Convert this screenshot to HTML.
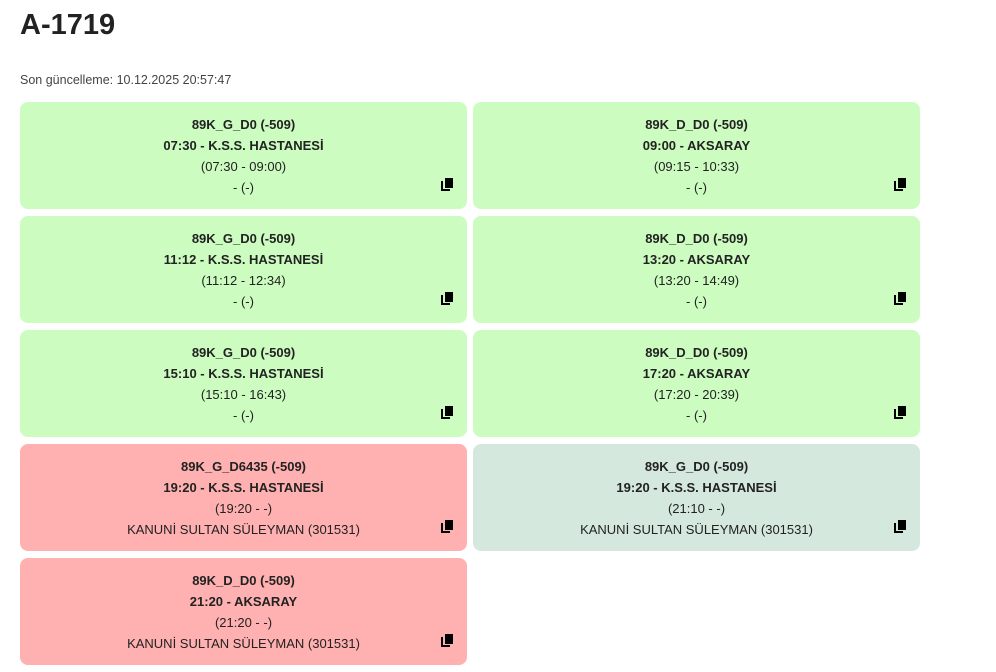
<!DOCTYPE html>
<html><head><meta charset="utf-8"><style>
body{margin:0;background:#fff;font-family:"Liberation Sans",sans-serif;color:#222;width:996px;height:672px;overflow:hidden;position:relative}
h1{position:absolute;left:20px;top:9px;margin:0;font-size:29px;font-weight:bold;color:#222}
.sub{position:absolute;left:20px;top:73px;font-size:12.5px;color:#444}
.c{position:absolute;width:447px;height:107px;border-radius:8px;text-align:center;font-size:13px;line-height:21px;box-sizing:border-box;padding-top:12px}
.g{background:#ccfcc0}.r{background:#ffb0b0}.s{background:#d5e8de}
.b{font-weight:bold}
.i{position:absolute;right:14px;top:76px;width:12px;height:13px}
</style></head><body>
<h1>A-1719</h1>
<div class="sub">Son güncelleme: 10.12.2025 20:57:47</div>
<svg width="0" height="0" style="position:absolute"><defs><g id="ic"><rect x="4" y="0" width="8" height="10" fill="#000"/><path d="M1 3v9h8" fill="none" stroke="#000" stroke-width="2"/></g></defs></svg>

<div class="c g" style="left:20px;top:102px"><div class="b">89K_G_D0 (-509)</div><div class="b">07:30 - K.S.S. HASTANESİ</div><div>(07:30 - 09:00)</div><div>- (-)</div><svg class="i"><use href="#ic"/></svg></div>
<div class="c g" style="left:473px;top:102px"><div class="b">89K_D_D0 (-509)</div><div class="b">09:00 - AKSARAY</div><div>(09:15 - 10:33)</div><div>- (-)</div><svg class="i"><use href="#ic"/></svg></div>
<div class="c g" style="left:20px;top:216px"><div class="b">89K_G_D0 (-509)</div><div class="b">11:12 - K.S.S. HASTANESİ</div><div>(11:12 - 12:34)</div><div>- (-)</div><svg class="i"><use href="#ic"/></svg></div>
<div class="c g" style="left:473px;top:216px"><div class="b">89K_D_D0 (-509)</div><div class="b">13:20 - AKSARAY</div><div>(13:20 - 14:49)</div><div>- (-)</div><svg class="i"><use href="#ic"/></svg></div>
<div class="c g" style="left:20px;top:330px"><div class="b">89K_G_D0 (-509)</div><div class="b">15:10 - K.S.S. HASTANESİ</div><div>(15:10 - 16:43)</div><div>- (-)</div><svg class="i"><use href="#ic"/></svg></div>
<div class="c g" style="left:473px;top:330px"><div class="b">89K_D_D0 (-509)</div><div class="b">17:20 - AKSARAY</div><div>(17:20 - 20:39)</div><div>- (-)</div><svg class="i"><use href="#ic"/></svg></div>
<div class="c r" style="left:20px;top:444px"><div class="b">89K_G_D6435 (-509)</div><div class="b">19:20 - K.S.S. HASTANESİ</div><div>(19:20 - -)</div><div>KANUNİ SULTAN SÜLEYMAN (301531)</div><svg class="i"><use href="#ic"/></svg></div>
<div class="c s" style="left:473px;top:444px"><div class="b">89K_G_D0 (-509)</div><div class="b">19:20 - K.S.S. HASTANESİ</div><div>(21:10 - -)</div><div>KANUNİ SULTAN SÜLEYMAN (301531)</div><svg class="i"><use href="#ic"/></svg></div>
<div class="c r" style="left:20px;top:558px"><div class="b">89K_D_D0 (-509)</div><div class="b">21:20 - AKSARAY</div><div>(21:20 - -)</div><div>KANUNİ SULTAN SÜLEYMAN (301531)</div><svg class="i"><use href="#ic"/></svg></div>
</body></html>
